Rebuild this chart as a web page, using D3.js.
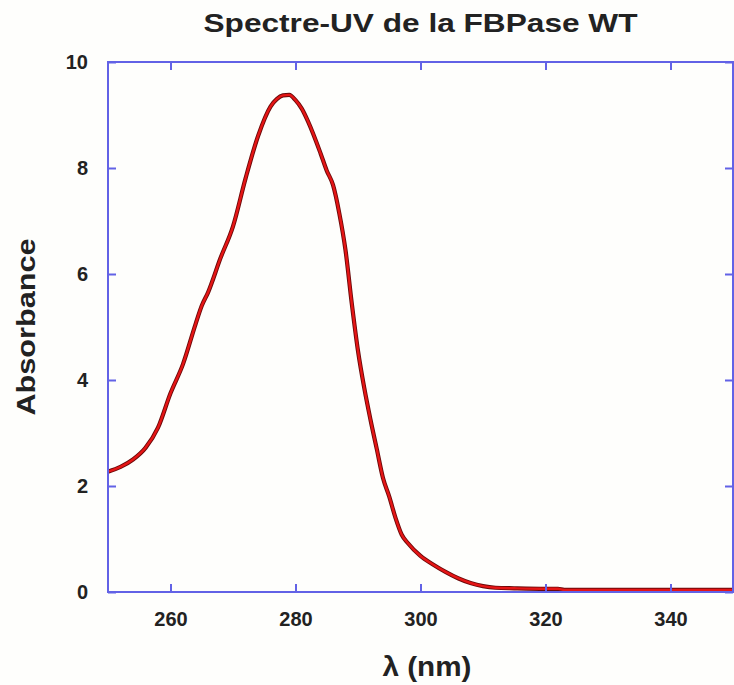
<!DOCTYPE html>
<html>
<head>
<meta charset="utf-8">
<script src="https://cdn.jsdelivr.net/npm/d3@7"></script>
<style>
  html, body { margin: 0; padding: 0; background: #fefefc; }
  text { font-family: "Liberation Sans", Arial, sans-serif; font-weight: bold; fill: #222; }
</style>
</head>
<body>
<svg id="chart" width="734" height="685"></svg>
<script>
// wavelength (nm) and absorbance
const wavelength = [250, 252, 254, 256, 258, 260, 262, 264, 265, 266, 268, 270, 272, 274, 276, 277, 278, 279, 280, 281, 282, 284, 285, 286, 287, 288, 289, 290, 291, 292, 293, 294, 295, 296, 297, 298, 300, 302, 304, 306, 308, 310, 312, 315, 320, 322, 323, 325, 330, 335, 340, 345, 350];
const absorbance = [2.27, 2.36, 2.5, 2.72, 3.1, 3.75, 4.3, 5.05, 5.4, 5.65, 6.3, 6.9, 7.8, 8.6, 9.16, 9.3, 9.37, 9.38, 9.28, 9.12, 8.88, 8.28, 7.95, 7.68, 7.15, 6.45, 5.45, 4.55, 3.85, 3.25, 2.7, 2.15, 1.8, 1.4, 1.08, 0.92, 0.68, 0.52, 0.38, 0.26, 0.17, 0.11, 0.08, 0.07, 0.06, 0.06, 0.04, 0.04, 0.04, 0.04, 0.04, 0.04, 0.04];
const xTicks = [260, 280, 300, 320, 340];
const yTicks = [0, 2, 4, 6, 8, 10];

const svg = d3.select("#chart");
const margin = { top: 62, right: 1, bottom: 93, left: 108 };
const width = 734 - margin.left - margin.right;
const height = 685 - margin.top - margin.bottom;
const axisColor = "#6262e6";

const x = d3.scaleLinear().domain([250, 350]).range([0, width]);
const y = d3.scaleLinear().domain([0, 10]).range([height, 0]);

const g = svg.append("g").attr("transform", "translate(" + margin.left + "," + margin.top + ")");

svg.append("text")
  .attr("x", margin.left + width / 2)
  .attr("y", 32)
  .attr("text-anchor", "middle")
  .attr("textLength", 434)
  .attr("lengthAdjust", "spacingAndGlyphs")
  .style("font-size", "26px")
  .text("Spectre-UV de la FBPase WT");

// the curve
const data = wavelength.map((w, i) => ({ w: w, a: absorbance[i] }));
const line = d3.line().x(d => x(d.w)).y(d => y(d.a)).curve(d3.curveMonotoneX);

g.append("path").datum(data)
  .attr("fill", "none").attr("stroke", "#6a0808").attr("stroke-width", 4.2)
  .attr("stroke-linejoin", "round").attr("d", line);
g.append("path").datum(data)
  .attr("fill", "none").attr("stroke", "#e51515").attr("stroke-width", 2.4)
  .attr("stroke-linejoin", "round").attr("d", line);

// frame
g.append("rect")
  .attr("width", width).attr("height", height)
  .attr("fill", "none").attr("stroke", axisColor).attr("stroke-width", 2);

// inward ticks on all sides
const xAxis = d3.axisBottom(x).tickValues(xTicks).tickSize(8).tickPadding(14);
const xAxisTop = d3.axisTop(x).tickValues(xTicks).tickSize(-8).tickFormat("");
const yAxis = d3.axisLeft(y).tickValues(yTicks).tickSize(-8).tickPadding(20);
const yAxisRight = d3.axisRight(y).tickValues(yTicks).tickSize(-8).tickFormat("");

const gx = g.append("g").attr("transform", "translate(0," + height + ")").call(xAxis);
gx.selectAll(".tick line").attr("y2", -8);
gx.selectAll(".tick text").attr("dy", "0.71em").attr("y", 20);

g.append("g").call(xAxisTop);
g.append("g").call(yAxis);
g.append("g").attr("transform", "translate(" + width + ",0)").call(yAxisRight);

g.selectAll(".domain").remove();
g.selectAll(".tick line").attr("stroke", axisColor).attr("stroke-width", 2);
g.selectAll(".tick text").style("font-size", "20px").attr("fill", "#222");

svg.append("text")
  .attr("transform", "translate(35," + (margin.top + height / 2) + ") rotate(-90)")
  .attr("text-anchor", "middle")
  .attr("textLength", 177)
  .attr("lengthAdjust", "spacingAndGlyphs")
  .style("font-size", "26px")
  .text("Absorbance");

svg.append("text")
  .attr("x", 427)
  .attr("y", 676)
  .attr("text-anchor", "middle")
  .attr("textLength", 89)
  .attr("lengthAdjust", "spacingAndGlyphs")
  .style("font-size", "27px")
  .text("λ (nm)");
</script>
</body>
</html>
